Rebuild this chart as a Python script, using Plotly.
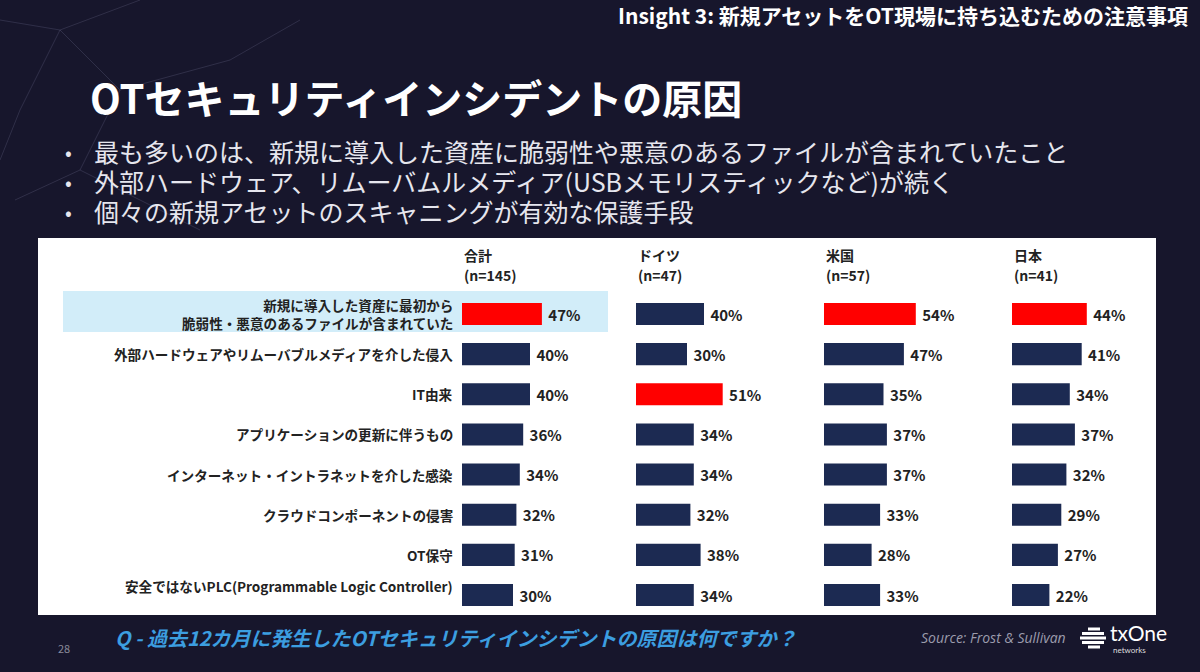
import plotly.graph_objects as go

# ---- data -------------------------------------------------------------
categories = [
    "新規に導入した資産に最初から<br>脆弱性・悪意のあるファイルが含まれていた",
    "外部ハードウェアやリムーバブルメディアを介した侵入",
    "IT由来",
    "アプリケーションの更新に伴うもの",
    "インターネット・イントラネットを介した感染",
    "クラウドコンポーネントの侵害",
    "OT保守",
    "安全ではないPLC(Programmable Logic Controller)",
]
group_names = ["合計", "ドイツ", "米国", "日本"]
group_sizes = ["(n=145)", "(n=47)", "(n=57)", "(n=41)"]
total = [47, 40, 40, 36, 34, 32, 31, 30]
germany = [40, 30, 51, 34, 34, 32, 38, 34]
usa = [54, 47, 35, 37, 37, 33, 28, 33]
japan = [44, 41, 34, 37, 32, 29, 27, 22]
series = [total, germany, usa, japan]

title = "OTセキュリティインシデントの原因"
header = "Insight 3: 新規アセットをOT現場に持ち込むための注意事項"
bullets = [
    "最も多いのは、新規に導入した資産に脆弱性や悪意のあるファイルが含まれていたこと",
    "外部ハードウェア、リムーバムルメディア(USBメモリスティックなど)が続く",
    "個々の新規アセットのスキャニングが有効な保護手段",
]
question = "Q - 過去12カ月に発生したOTセキュリティインシデントの原因は何ですか？"
source = "Source: Frost & Sullivan"

W, H = 1200, 672
NAVY = "#1c2a52"
RED = "#ff0000"
BG = "#17162c"
JP = "Noto Sans CJK JP"


def px_x(x):
    return x / W


def px_y(y):
    return 1 - y / H


# x positions (pixels) where each group of bars starts
group_left = [462, 636, 824, 1012]

fig = go.Figure()
axis_names = ["x", "x2", "x3", "x4"]
for i, values in enumerate(series):
    top = max(values)
    colors = [RED if v == top else NAVY for v in values]
    fig.add_trace(
        go.Bar(
            x=values,
            y=categories,
            orientation="h",
            xaxis=axis_names[i],
            yaxis="y",
            marker={"color": colors, "line": {"width": 0}},
            width=0.55,
            text=[f"\u00a0<b>{v}%</b>" for v in values],
            textposition="outside",
            textfont={"family": JP, "size": 15, "color": "#222222"},
            cliponaxis=False,
            hoverinfo="skip",
            showlegend=False,
        )
    )

layout_axes = {}
for i, name in enumerate(axis_names):
    key = "xaxis" if i == 0 else f"xaxis{i + 1}"
    left = group_left[i]
    layout_axes[key] = {
        "domain": [px_x(left), px_x(left + 170)],
        "range": [0, 100],
        "visible": False,
        "anchor": "y",
    }

fig.update_layout(
    **layout_axes,
    yaxis={
        "domain": [px_y(616), px_y(293)],
        "categoryorder": "array",
        "categoryarray": categories,
        "autorange": "reversed",
        "visible": False,
    },
    width=W,
    height=H,
    margin={"l": 0, "r": 0, "t": 0, "b": 0},
    paper_bgcolor=BG,
    plot_bgcolor="rgba(0,0,0,0)",
    font={"family": JP},
)

shapes = []
# faint network lines in the background
net_lines = [
    (60, 30, 140, 0), (60, 30, 0, 20), (60, 30, 120, 90), (60, 30, 20, 110),
    (120, 90, 230, 60), (120, 90, 80, 170), (20, 110, 0, 160), (80, 170, 15, 200),
    (230, 60, 300, 20), (80, 170, 200, 230),
]
for x0, y0, x1, y1 in net_lines:
    shapes.append({
        "type": "line", "xref": "paper", "yref": "paper",
        "x0": px_x(x0), "y0": px_y(y0), "x1": px_x(x1), "y1": px_y(y1),
        "line": {"color": "rgba(160,160,200,0.18)", "width": 1}, "layer": "below",
    })
# white panel
shapes.append({
    "type": "rect", "xref": "paper", "yref": "paper",
    "x0": px_x(38), "x1": px_x(1156), "y0": px_y(615), "y1": px_y(238),
    "fillcolor": "white", "line": {"width": 0}, "layer": "below",
})
# highlight band for first row
shapes.append({
    "type": "rect", "xref": "paper", "yref": "paper",
    "x0": px_x(63), "x1": px_x(608), "y0": px_y(332), "y1": px_y(291),
    "fillcolor": "#d2edf9", "line": {"width": 0}, "layer": "below",
})
# logo mark (stacked strokes)
for k, (x0, x1) in enumerate([(1088, 1100), (1082, 1104), (1080, 1106), (1082, 1104), (1088, 1100)]):
    yy = 629 + k * 4.5
    shapes.append({
        "type": "line", "xref": "paper", "yref": "paper",
        "x0": px_x(x0), "x1": px_x(x1), "y0": px_y(yy), "y1": px_y(yy),
        "line": {"color": "white", "width": 3},
    })
fig.update_layout(shapes=shapes)

ann = []
# slide header
ann.append({"text": f"<b>{header}</b>", "x": px_x(1190), "y": px_y(15), "xanchor": "right",
            "yanchor": "middle", "font": {"size": 21, "color": "white", "family": JP}})
ann.append({"text": f"<b>{title}</b>", "x": px_x(88), "y": px_y(97), "xanchor": "left",
            "yanchor": "middle", "font": {"size": 40, "color": "white", "family": JP}})
for j, b in enumerate(bullets):
    yy = 151 + j * 30
    ann.append({"text": "•", "x": px_x(63), "y": px_y(yy), "xanchor": "left",
                "yanchor": "middle", "font": {"size": 20, "color": "#e6e6ee", "family": JP}})
    ann.append({"text": b, "x": px_x(92), "y": px_y(yy), "xanchor": "left",
                "yanchor": "middle", "font": {"size": 25, "color": "#e6e6ee", "family": JP}})

# group headers
for i, name in enumerate(group_names):
    ann.append({"text": f"<b>{name}</b>", "x": px_x(group_left[i]), "y": px_y(255),
                "xanchor": "left", "yanchor": "middle",
                "font": {"size": 14, "color": "#222", "family": JP}})
    ann.append({"text": f"<b>{group_sizes[i]}</b>", "x": px_x(group_left[i]), "y": px_y(275),
                "xanchor": "left", "yanchor": "middle",
                "font": {"size": 14, "color": "#222", "family": JP}})

# category labels
for k, cat in enumerate(categories):
    ann.append({"text": f"<b>{cat}</b>", "x": px_x(455), "xref": "paper", "y": cat, "yref": "y",
                "xanchor": "right", "yanchor": "middle", "align": "right",
                "yshift": 9 if k == len(categories) - 1 else 0,
                "font": {"size": 13.6, "color": "#222", "family": JP}})

# footer
ann.append({"text": "28", "x": px_x(56), "y": px_y(648), "xanchor": "left", "yanchor": "middle",
            "font": {"size": 11, "color": "#8a8a9a", "family": JP}})
ann.append({"text": f"<b><i>{question}</i></b>", "x": px_x(113), "y": px_y(637), "xanchor": "left",
            "yanchor": "middle", "font": {"size": 20, "color": "#3c9ee0", "family": JP}})
ann.append({"text": f"<i>{source}</i>", "x": px_x(1068), "y": px_y(637), "xanchor": "right",
            "yanchor": "middle", "font": {"size": 14, "color": "#9c9cac", "family": "Open Sans"}})
ann.append({"text": "txOne", "x": px_x(1108), "y": px_y(632), "xanchor": "left",
            "yanchor": "middle", "font": {"size": 21, "color": "white", "family": "Lato"}})
ann.append({"text": "networks", "x": px_x(1111), "y": px_y(650), "xanchor": "left",
            "yanchor": "middle", "font": {"size": 8, "color": "#dddddd", "family": "Lato"}})

for a in ann:
    a.setdefault("xref", "paper")
    a.setdefault("yref", "paper")
    a["showarrow"] = False
fig.update_layout(annotations=ann)

# the page body has a default 8px margin; drop it so the slide fills the window
fig.write_html(
    "out.html",
    config={"displayModeBar": False},
    post_script="document.body.style.margin='0';document.body.style.background='#17162c';",
)
